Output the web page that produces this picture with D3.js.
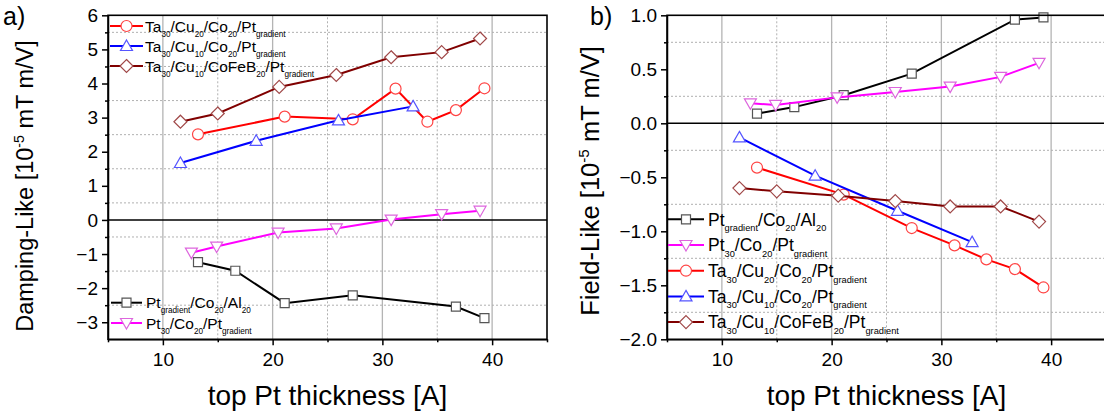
<!DOCTYPE html>
<html>
<head>
<meta charset="utf-8">
<script src="https://cdn.jsdelivr.net/npm/d3@7"></script>
<style>
  body { margin: 0; background: #fff; }
  text { font-family: "Liberation Sans", Arial, sans-serif; fill: #000; }
</style>
</head>
<body>
<svg id="chart" width="1104" height="418"></svg>
<script>
// top Pt thickness [A] for each sample series
const xPtAl = [13.2, 16.6, 21.1, 27.3, 36.7, 39.3];
const xPtPt = [12.6, 14.9, 20.5, 25.8, 30.8, 35.4, 38.9];
const xCu20 = [13.2, 21.1, 27.3, 31.2, 34.1, 36.7, 39.3];
const xCu10 = [11.6, 18.5, 26.0, 32.8];
const xFeB  = [11.6, 15.0, 20.6, 25.8, 30.8, 35.4, 38.9];

// damping-like values (10^-5 mT m/V)
const dlPtAl = [-1.24, -1.49, -2.44, -2.21, -2.54, -2.88];
const dlPtPt = [-0.96, -0.78, -0.37, -0.25, 0.01, 0.17, 0.27];
const dlCu20 = [2.51, 3.03, 2.95, 3.85, 2.88, 3.22, 3.86];
const dlCu10 = [1.67, 2.32, 2.92, 3.33];
const dlFeB  = [2.88, 3.12, 3.90, 4.25, 4.77, 4.92, 5.32];

// field-like values (10^-5 mT m/V)
const flPtAl = [0.09, 0.15, 0.26, 0.46, 0.96, 0.98];
const flPtPt = [0.185, 0.17, 0.24, 0.29, 0.34, 0.43, 0.56];
const flCu20 = [-0.41, -0.66, -0.97, -1.13, -1.26, -1.35, -1.52];
const flCu10 = [-0.13, -0.485, -0.81, -1.10];
const flFeB  = [-0.60, -0.63, -0.67, -0.72, -0.77, -0.77, -0.91];

// legend names, _{..} is a subscript
const nPtAl = "Pt_{gradient}/Co_{20}/Al_{20}";
const nPtPt = "Pt_{30}/Co_{20}/Pt_{gradient}";
const nCu20 = "Ta_{30}/Cu_{20}/Co_{20}/Pt_{gradient}";
const nCu10 = "Ta_{30}/Cu_{10}/Co_{20}/Pt_{gradient}";
const nFeB  = "Ta_{30}/Cu_{10}/CoFeB_{20}/Pt_{gradient}";

// axis ticks
const xMajor = [10, 20, 30, 40];
const xMinor = [5, 15, 25, 35, 45];
const dlMajor = [-3, -2, -1, 0, 1, 2, 3, 4, 5, 6];
const dlMinor = [-2.5, -1.5, -0.5, 0.5, 1.5, 2.5, 3.5, 4.5, 5.5];
const flMajor = [-2, -1.5, -1, -0.5, 0, 0.5, 1];
const flMinor = [-1.75, -1.25, -0.75, -0.25, 0.25, 0.75];

const styles = {
  PtAl: { line: "#000000", mark: "#555555", shape: "square" },
  PtPt: { line: "#ff00ff", mark: "#dd66dd", shape: "down" },
  Cu20: { line: "#ff0000", mark: "#ff4444", shape: "circle" },
  Cu10: { line: "#0000ff", mark: "#5555ff", shape: "up" },
  FeB:  { line: "#800000", mark: "#a04848", shape: "diamond" }
};

const svg = d3.select("#chart");

function markerPath(shape) {
  if (shape === "square") return "M-4.5,-4.5H4.5V4.5H-4.5Z";
  if (shape === "up") return "M0,-6L6,4.5H-6Z";
  if (shape === "down") return "M0,6L6,-4.5H-6Z";
  if (shape === "diamond") return "M0,-6.5L6.5,0L0,6.5L-6.5,0Z";
  return "M5.5,0A5.5,5.5 0 1,1 -5.5,0A5.5,5.5 0 1,1 5.5,0Z";
}

// write a name with _{..} parts as subscripts
function richText(t, str, size) {
  const parts = str.split(/(_\{[^}]*\})/).filter(s => s.length);
  let down = false;
  parts.forEach(p => {
    if (p.startsWith("_{")) {
      t.append("tspan").attr("font-size", size * 0.53)
        .attr("dy", down ? 0 : size * 0.32).text(p.slice(2, -1));
      down = true;
    } else {
      t.append("tspan").attr("font-size", size)
        .attr("dy", down ? -size * 0.32 : 0).text(p);
      down = false;
    }
  });
}

function drawPanel(cfg) {
  const x = d3.scaleLinear().domain([5, 45]).range(cfg.xr);
  const y = d3.scaleLinear().domain(cfg.yd).range([339.3, 15.3]);
  const g = svg.append("g");

  // grid
  g.selectAll(".vmaj").data(xMajor).enter().append("line")
    .attr("x1", d => x(d)).attr("x2", d => x(d))
    .attr("y1", y.range()[0]).attr("y2", y.range()[1])
    .attr("stroke", "#b4b4b4").attr("stroke-width", 1.3);
  g.selectAll(".vmin").data(xMinor.slice(1, -1)).enter().append("line")
    .attr("x1", d => x(d)).attr("x2", d => x(d))
    .attr("y1", y.range()[0]).attr("y2", y.range()[1])
    .attr("stroke", "#b0b0b0").attr("stroke-dasharray", "2,2");
  g.selectAll(".hmin").data(cfg.yMinor).enter().append("line")
    .attr("x1", cfg.xr[0]).attr("x2", cfg.xr[1])
    .attr("y1", d => y(d)).attr("y2", d => y(d))
    .attr("stroke", "#b0b0b0").attr("stroke-dasharray", "2,2");
  g.append("line").attr("x1", cfg.xr[0]).attr("x2", cfg.xr[1])
    .attr("y1", y(0)).attr("y2", y(0)).attr("stroke", "#000").attr("stroke-width", 1.5);

  // series
  const line = d3.line().x(d => x(d[0])).y(d => y(d[1]));
  cfg.series.forEach(s => {
    const st = styles[s.key];
    const pts = s.xs.map((v, i) => [v, s.ys[i]]);
    g.append("path").datum(pts).attr("d", line)
      .attr("fill", "none").attr("stroke", st.line).attr("stroke-width", 2);
    g.selectAll(null).data(pts).enter().append("path")
      .attr("transform", d => `translate(${x(d[0])},${y(d[1])})`)
      .attr("d", markerPath(st.shape))
      .attr("fill", "#fff").attr("stroke", st.mark).attr("stroke-width", 1.2);
  });

  // axes
  const bottom = g.append("g").attr("transform", `translate(0,${y.range()[0]})`)
    .call(d3.axisBottom(x).tickValues(xMajor).tickSize(6).tickPadding(7).tickSizeOuter(0));
  g.append("g").attr("transform", `translate(0,${y.range()[0]})`)
    .call(d3.axisBottom(x).tickValues(xMinor).tickSize(3).tickFormat(""))
    .select(".domain").remove();
  const left = g.append("g").attr("transform", `translate(${cfg.xr[0]},0)`)
    .call(d3.axisLeft(y).tickValues(cfg.yMajor).tickSize(6).tickPadding(4).tickSizeOuter(0).tickFormat(cfg.fmt));
  g.append("g").attr("transform", `translate(${cfg.xr[0]},0)`)
    .call(d3.axisLeft(y).tickValues(cfg.yMinor).tickSize(3).tickFormat(""))
    .select(".domain").remove();
  [bottom, left].forEach(a => {
    a.selectAll("text").attr("font-size", 19).attr("font-family", "Liberation Sans, Arial, sans-serif");
  });
  g.selectAll(".domain, .tick line").attr("stroke", "#000").attr("stroke-width", 1.5);
  g.append("rect").attr("x", cfg.xr[0]).attr("y", y.range()[1])
    .attr("width", cfg.xr[1] - cfg.xr[0]).attr("height", y.range()[0] - y.range()[1])
    .attr("fill", "none").attr("stroke", "#000").attr("stroke-width", 1.6);

  // titles
  g.append("text").attr("x", cfg.tag[0]).attr("y", 25).attr("font-size", 25).text(cfg.tag[1]);
  const fs = cfg.ytSize;
  const yt = g.append("text")
    .attr("transform", `translate(${cfg.ytx},${cfg.ytc}) rotate(-90)`)
    .attr("text-anchor", "middle").attr("font-size", fs);
  yt.append("tspan").text(cfg.ytitle + " [10");
  yt.append("tspan").attr("font-size", fs * 0.6).attr("dy", -fs * 0.4).text("-5");
  yt.append("tspan").attr("dy", fs * 0.4).text(" mT m/V]");
  g.append("text").attr("x", (cfg.xr[0] + cfg.xr[1]) / 2).attr("y", 405)
    .attr("text-anchor", "middle").attr("font-size", 28).text("top Pt thickness [A]");

  // legends
  cfg.legends.forEach(L => {
    L.items.forEach((it, i) => {
      const st = styles[it.key];
      const ly = L.y + i * L.dy;
      g.append("line").attr("x1", L.x).attr("x2", L.x + L.len)
        .attr("y1", ly).attr("y2", ly).attr("stroke", st.line).attr("stroke-width", 2);
      g.append("path").attr("transform", `translate(${L.x + L.len / 2},${ly})`)
        .attr("d", markerPath(st.shape)).attr("fill", "#fff")
        .attr("stroke", st.mark).attr("stroke-width", 1.2);
      const t = g.append("text").attr("x", L.x + L.len + L.gap).attr("y", ly + L.size * 0.36);
      richText(t, it.name, L.size);
    });
  });
}

drawPanel({
  xr: [108, 547], yd: [-3.5, 6], yMajor: dlMajor, yMinor: dlMinor,
  fmt: d3.format("d"), tag: [3, "a)"], ytx: 33, ytc: 186, ytSize: 23.5, ytitle: "Damping-Like",
  series: [
    { key: "PtAl", xs: xPtAl, ys: dlPtAl },
    { key: "PtPt", xs: xPtPt, ys: dlPtPt },
    { key: "Cu20", xs: xCu20, ys: dlCu20 },
    { key: "Cu10", xs: xCu10, ys: dlCu10 },
    { key: "FeB",  xs: xFeB,  ys: dlFeB }
  ],
  legends: [
    { x: 110, y: 26, dy: 20, len: 33, gap: 2, size: 15.5,
      items: [{ key: "Cu20", name: nCu20 }, { key: "Cu10", name: nCu10 }, { key: "FeB", name: nFeB }] },
    { x: 111, y: 302.7, dy: 20.3, len: 31, gap: 4, size: 15.5,
      items: [{ key: "PtAl", name: nPtAl }, { key: "PtPt", name: nPtPt }] }
  ]
});

drawPanel({
  xr: [667, 1106], yd: [-2, 1], yMajor: flMajor, yMinor: flMinor,
  fmt: d3.format(".1f"), tag: [590, "b)"], ytx: 599, ytc: 181, ytSize: 25.5, ytitle: "Field-Like",
  series: [
    { key: "PtAl", xs: xPtAl, ys: flPtAl },
    { key: "PtPt", xs: xPtPt, ys: flPtPt },
    { key: "Cu20", xs: xCu20, ys: flCu20 },
    { key: "Cu10", xs: xCu10, ys: flCu10 },
    { key: "FeB",  xs: xFeB,  ys: flFeB }
  ],
  legends: [
    { x: 668, y: 219.3, dy: 25.7, len: 36, gap: 4, size: 17.5,
      items: [{ key: "PtAl", name: nPtAl }, { key: "PtPt", name: nPtPt },
              { key: "Cu20", name: nCu20 }, { key: "Cu10", name: nCu10 }, { key: "FeB", name: nFeB }] }
  ]
});
</script>
</body>
</html>
